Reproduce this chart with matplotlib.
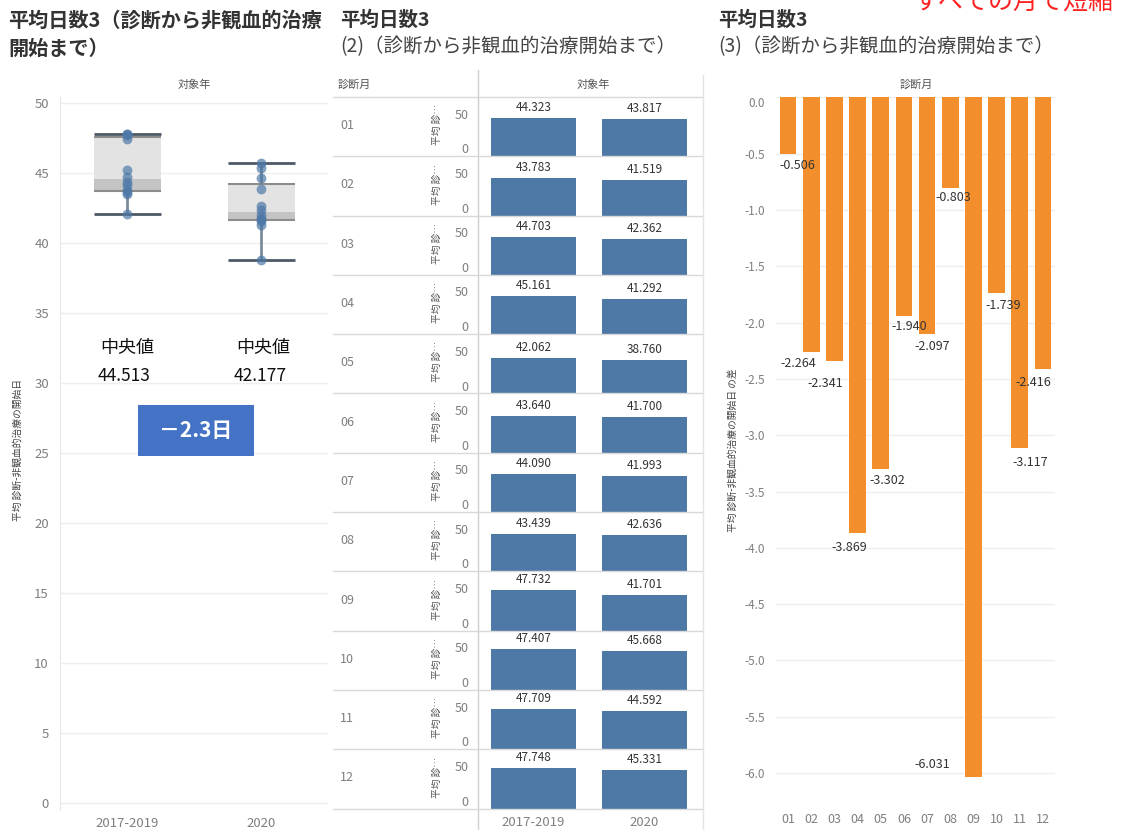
import numpy as np
import matplotlib
matplotlib.use("Agg")
import matplotlib.pyplot as plt
from matplotlib.patches import Rectangle
from matplotlib.lines import Line2D

plt.rcParams['font.family'] = ['Noto Sans CJK JP', 'DejaVu Sans']
plt.rcParams['axes.unicode_minus'] = False

# data
months = ['01', '02', '03', '04', '05', '06', '07', '08', '09', '10', '11', '12']
years = ['2017-2019', '2020']
avg_1719 = [44.323, 43.783, 44.703, 45.161, 42.062, 43.640, 44.090, 43.439, 47.732, 47.407, 47.709, 47.748]
avg_2020 = [43.817, 41.519, 42.362, 41.292, 38.760, 41.700, 41.993, 42.636, 41.701, 45.668, 44.592, 45.331]
diff = [-0.506, -2.264, -2.341, -3.869, -3.302, -1.940, -2.097, -0.803, -6.031, -1.739, -3.117, -2.416]
median_labels = ['44.513', '42.177']

# label nudges (pixels) for the difference chart, like the Tableau placement
diff_label_dx = [9, -13, -9, -8, 7, 5, 5, 3, -41, 7, 10, -10]
diff_label_dy = [-11, -11, -22, -14, -11, -11, -13, -10, 12, -12, -14, -13]

W, H = 1126, 830
fig = plt.figure(figsize=(W / 100, H / 100), dpi=100)

GRAY_TXT = '#7f7f7f'
GRID = '#eeeeee'
BLUE = '#4e79a7'
ORANGE = '#f28e2b'


def add_ax(x0, y0, x1, y1):
    return fig.add_axes([x0 / W, 1 - y1 / H, (x1 - x0) / W, (y1 - y0) / H])


def ftext(x, y, s, **kw):
    return fig.text(x / W, 1 - y / H, s, **kw)


def fline(x0, y0, x1, y1, color='#dddddd', lw=1):
    fig.add_artist(Line2D([x0 / W, x1 / W], [1 - y0 / H, 1 - y1 / H], color=color, lw=lw))


def clean(ax):
    for s in ax.spines.values():
        s.set_visible(False)
    ax.tick_params(length=0, colors=GRAY_TXT)


# ---------------- titles ----------------
ftext(8, 20, '平均日数3（診断から非観血的治療', fontsize=14.5, fontweight='bold', color='#333333', va='center')
ftext(8, 48, '開始まで）', fontsize=14.5, fontweight='bold', color='#333333', va='center')
ftext(340, 20, '平均日数3', fontsize=14, fontweight='bold', color='#333333', va='center')
ftext(340, 47, '(2)（診断から非観血的治療開始まで）', fontsize=14, color='#444444', va='center')
ftext(718, 20, '平均日数3', fontsize=14, fontweight='bold', color='#333333', va='center')
ftext(718, 47, '(3)（診断から非観血的治療開始まで）', fontsize=14, color='#444444', va='center')
ftext(1014, 2, 'すべての月で短縮', fontsize=18, color='#ff2020', va='center', ha='center')

# ---------------- panel 1: box plot ----------------
ax1 = add_ax(60, 97, 328, 810)
clean(ax1)
ax1.spines['left'].set_visible(True)
ax1.spines['left'].set_color('#e6e6e6')
ax1.set_xlim(-0.5, 1.5)
ax1.set_ylim(-0.52, 50.4)
ax1.set_yticks(range(0, 51, 5))
ax1.yaxis.grid(True, color=GRID, lw=1)
ax1.set_axisbelow(True)
ax1.set_xticks([0, 1])
ax1.set_xticklabels(years, fontsize=9.5)
ax1.tick_params(axis='y', labelsize=9.5, pad=8)
ax1.tick_params(axis='x', pad=5)

for i, vals in enumerate([avg_1719, avg_2020]):
    q1, med, q3 = np.percentile(vals, [25, 50, 75], method='hazen')
    lo, hi = min(vals), max(vals)
    ax1.vlines(i, lo, q1, color='#7d8b99', lw=2, zorder=2)
    ax1.vlines(i, q3, hi, color='#7d8b99', lw=2, zorder=2)
    ax1.bar(i, q3 - med, bottom=med, width=0.5, color='#e3e3e3', zorder=1)
    ax1.bar(i, med - q1, bottom=q1, width=0.5, color='#c4c4c4', zorder=1)
    ax1.hlines([q1, q3], i - 0.25, i + 0.25, color='#8c8c8c', lw=1.5, zorder=2)
    ax1.hlines([lo, hi], i - 0.25, i + 0.25, color='#4d5966', lw=2, zorder=3)
    ax1.scatter([i] * len(vals), vals, s=50, color=BLUE, alpha=0.7, lw=0, zorder=4)

ftext(194, 85, '対象年', fontsize=8, color='#555555', ha='center', va='center')
ftext(18, 450, '平均 診断-非観血的治療の開始日', fontsize=7, color='#444444', rotation=90,
      ha='center', va='center')

# median annotations
for xc, m in zip([127, 263], median_labels):
    ftext(xc, 348, '中央値', fontsize=13, color='#111111', ha='center', va='center')
    ftext(xc - 3, 376, m, fontsize=12.5, color='#111111', ha='center', va='center')
fig.add_artist(Rectangle((138 / W, 1 - 456 / H), 116 / W, 51 / H, transform=fig.transFigure,
                         facecolor='#4472c4', edgecolor='none'))
ftext(196, 430, '－2.3日', fontsize=15, fontweight='bold', color='white', ha='center', va='center')

# ---------------- panel 2: small multiples ----------------
row_top = 97
row_h = 59.3
fline(333, row_top, 703, row_top, color='#d9d9d9')
fline(478, 70, 478, 830, color='#cfcfcf')
ftext(338, 85, '診断月', fontsize=8, color='#555555', va='center')
ftext(593, 85, '対象年', fontsize=8, color='#555555', ha='center', va='center')

for r, m in enumerate(months):
    y0 = row_top + r * row_h
    y1 = y0 + row_h
    fline(333, y1, 703, y1, color='#d9d9d9')
    ftext(340, y0 + row_h / 2 - 1, m, fontsize=9, color=GRAY_TXT, va='center')
    ftext(437, y0 + row_h / 2 - 2, '平均 診…', fontsize=7, color='#555555', rotation=90,
          ha='center', va='center')
    ax = add_ax(478, y0, 700, y1)
    clean(ax)
    ax.set_xlim(-0.5, 1.5)
    ax.set_ylim(0, 69.4)
    ax.set_yticks([0, 50])
    ax.tick_params(axis='y', labelsize=9, pad=7)
    labs = ax.get_yticklabels()
    labs[0].set_va('bottom')
    vals = [avg_1719[r], avg_2020[r]]
    ax.bar([0, 1], vals, width=0.76, color=BLUE)
    for xi, v in enumerate(vals):
        ax.annotate(f'{v:.3f}', (xi, v), xytext=(0, 4), textcoords='offset pixels',
                    ha='center', va='bottom', fontsize=8.5, color='#333333')
    if r == len(months) - 1:
        ax.set_xticks([0, 1])
        ax.set_xticklabels(years, fontsize=9.5)
        ax.tick_params(axis='x', pad=5)
    else:
        ax.set_xticks([])

# ---------------- panel 3: differences ----------------
fline(703, 75, 703, 830, color='#e3e3e3')
ax3 = add_ax(776.4, 97.4, 1054.6, 805)
clean(ax3)
x = np.arange(len(months))
ax3.set_xlim(-0.5, len(months) - 0.5)
ax3.set_ylim(-6.284, 0.0)
ticks = np.arange(0, -6.01, -0.5)
ax3.set_yticks(ticks)
ax3.set_yticklabels([f'{t:.1f}' if abs(t) > 1e-9 else '0.0' for t in ticks], fontsize=8.5)
ax3.get_yticklabels()[0].set_va('top')
ax3.yaxis.grid(True, color=GRID, lw=1)
ax3.set_axisbelow(True)
ax3.tick_params(axis='y', pad=8)
ax3.set_xticks(x)
ax3.set_xticklabels(months, fontsize=9)
ax3.tick_params(axis='x', pad=6)
ax3.bar(x, diff, width=0.72, color=ORANGE)
for xi, v, dx, dy in zip(x, diff, diff_label_dx, diff_label_dy):
    ax3.annotate(f'{v:.3f}', (xi, v), xytext=(dx, dy), textcoords='offset pixels',
                 ha='center', va='center', fontsize=9, color='#333333')

ftext(916, 85, '診断月', fontsize=8, color='#555555', ha='center', va='center')
ftext(733, 450, '平均 診断-非観血的治療の開始日 の差', fontsize=7, color='#444444', rotation=90,
      ha='center', va='center')

fig.savefig('out.png', dpi=100)
